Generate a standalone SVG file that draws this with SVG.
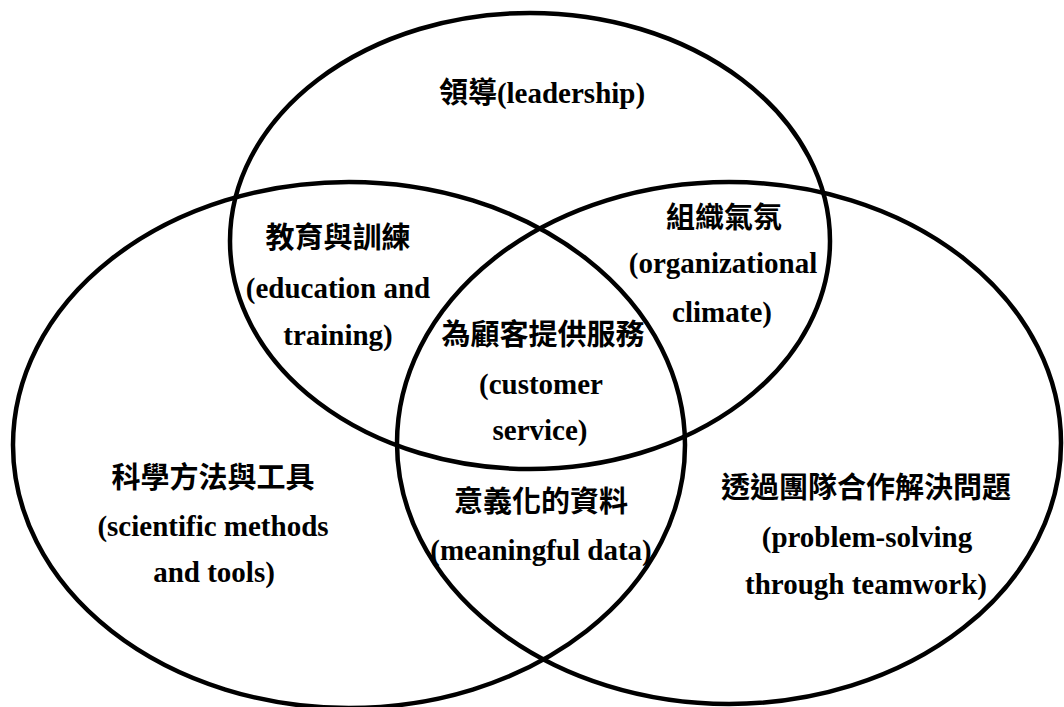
<svg xmlns="http://www.w3.org/2000/svg" width="1064" height="707" viewBox="0 0 1064 707">
<style>
.ring{fill:none;stroke:#000;stroke-width:4.5}
.en{font-family:"Liberation Serif","Times New Roman",serif;font-weight:bold;font-size:29px;fill:#000;text-anchor:middle}
.zh{font-family:"Liberation Serif","Noto Sans CJK TC",serif;font-weight:bold;font-size:29px;fill:#000;text-anchor:middle}
</style>
<rect width="1064" height="707" fill="#fff"/>
<g id="connectors"></g>
<g id="leadership">
<ellipse class="ring" cx="530" cy="241" rx="300" ry="228"/>
<text class="zh" x="542" y="103">領導(leadership)</text>
</g>
<g id="scientific-methods">
<ellipse class="ring" cx="349" cy="445" rx="336" ry="263"/>
<text class="zh" x="213" y="488">科學方法與工具</text>
<text class="en" x="213" y="536">(scientific methods</text>
<text class="en" x="214" y="582">and tools)</text>
</g>
<g id="problem-solving">
<ellipse class="ring" cx="729" cy="443" rx="332" ry="261"/>
<text class="zh" x="866" y="498">透過團隊合作解決問題</text>
<text class="en" x="867" y="547">(problem-solving</text>
<text class="en" x="866" y="594">through teamwork)</text>
</g>
<g id="education">
<text class="zh" x="338" y="248">教育與訓練</text>
<text class="en" x="338" y="298">(education and</text>
<text class="en" x="338" y="345">training)</text>
</g>
<g id="climate">
<text class="zh" x="724" y="228">組織氣氛</text>
<text class="en" x="723" y="273">(organizational</text>
<text class="en" x="722" y="322">climate)</text>
</g>
<g id="customer-service">
<text class="zh" x="543" y="345">為顧客提供服務</text>
<text class="en" x="541" y="394">(customer</text>
<text class="en" x="540" y="440">service)</text>
</g>
<g id="meaningful-data">
<text class="zh" x="541" y="512">意義化的資料</text>
<text class="en" x="541" y="560">(meaningful data)</text>
</g>
</svg>
